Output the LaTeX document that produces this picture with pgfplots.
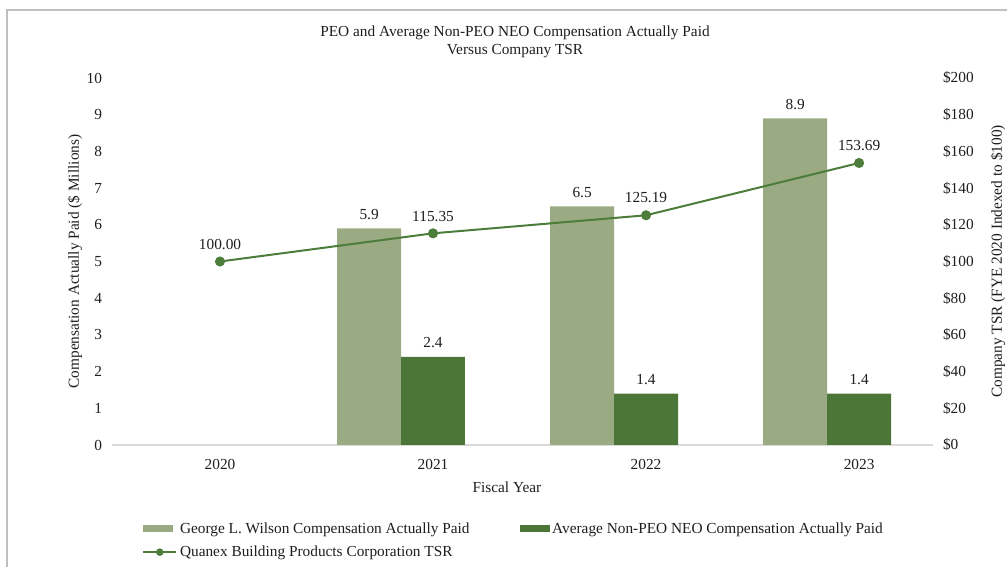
\documentclass[border=0pt]{standalone}
\usepackage{pgfplots}
\pgfplotsset{compat=1.18}
\usepackage{fontspec}
\setmainfont{Liberation Serif}
\definecolor{lightg}{HTML}{9AAA83}
\definecolor{darkg}{HTML}{4B7638}
\definecolor{lineg}{HTML}{4D7D3A}
\definecolor{axisg}{HTML}{D9D9D9}
\definecolor{borderg}{HTML}{C0C0C0}
\definecolor{txt}{HTML}{1E1E1E}
\newcommand\cf{\fontsize{11.5}{13.5}\selectfont}
\pgfplotsset{
  lightleg/.style={legend image code/.code={\fill[lightg] (0pt,-2.6pt) rectangle (22pt,2.6pt);}},
  darkleg/.style={legend image code/.code={\fill[darkg] (0pt,-2.6pt) rectangle (22pt,2.6pt);}},
  lineleg/.style={legend image code/.code={\draw[lineg, line width=1.5pt] (0pt,0pt) -- (24.8pt,0pt); \fill[lineg] (12.4pt,0pt) circle (2.6pt);}},
}
\begin{document}
\begin{tikzpicture}
\path[use as bounding box] (0pt,0pt) rectangle (755.25pt,425.25pt);
\draw[borderg, line width=0.8pt] (5.25pt,-5pt) -- (5.25pt,417.75pt) -- (760pt,417.75pt);
\node[txt, align=center, font=\fontsize{11.5}{13.5}\selectfont] at (386.25pt,393.75pt) {PEO and Average Non-PEO NEO Compensation Actually Paid\\Versus Company TSR};
\begin{axis}[
  at={(84pt,91.5pt)}, anchor=south west,
  width=615.75pt, height=275.25pt, scale only axis,
  xmin=-0.507, xmax=3.347, ymin=0, ymax=10,
  ytick={0,1,...,10},
  xtick={0,1,2,3}, xticklabels={2020,2021,2022,2023},
  axis y line*=left, axis x line*=bottom,
  y axis line style={draw=none},
  x axis line style={axisg, line width=0.8pt},
  major tick length=0pt,
  tick label style={txt, font=\cf},
  /pgf/number format/assume math mode=true,
  yticklabel style={xshift=-4pt},
  xticklabel style={yshift=-7.5pt},
  xlabel={Fiscal Year},
  ylabel={Compensation Actually Paid (\$ Millions)},
  label style={txt, font=\cf},
  xlabel style={at={(axis description cs:0.481,-0.114)}, anchor=center},
  ylabel style={at={(axis description cs:-0.045,0.5)}, anchor=center},
  ybar, bar width=0.30,
  nodes near coords,
  every node near coord/.append style={txt, font=\cf, yshift=3pt},
  legend columns=2,
  legend cell align=left,
  legend style={at={(axis description cs:0.0317,-0.196)}, anchor=north west,
    draw=none, fill=none, font=\cf, text=txt,
    /tikz/every even column/.append style={column sep=36pt},
    /tikz/row sep=4pt},
]
\addplot[fill=lightg, draw=none, bar shift=-0.30, lightleg]
  coordinates {(1,5.9) (2,6.5) (3,8.9)};
\addlegendentry{George L. Wilson Compensation Actually Paid}
\addplot[fill=darkg, draw=none, bar shift=0, darkleg]
  coordinates {(1,2.4) (2,1.4) (3,1.4)};
\addlegendentry{Average Non-PEO NEO Compensation Actually Paid}
\addlegendimage{lineleg}
\addlegendentry{Quanex Building Products Corporation TSR}
\end{axis}
\begin{axis}[
  at={(84pt,91.5pt)}, anchor=south west,
  width=615.75pt, height=275.25pt, scale only axis,
  xmin=-0.507, xmax=3.347, ymin=0, ymax=200,
  ytick={0,20,...,200},
  axis y line*=right, axis x line=none,
  y axis line style={draw=none},
  major tick length=0pt,
  tick label style={txt, font=\cf},
  /pgf/number format/assume math mode=true,
  yticklabel={\$\pgfmathprintnumber{\tick}},
  yticklabel style={xshift=4pt},
  ylabel={Company TSR (FYE 2020 Indexed to \$100)},
  ylabel style={txt, font=\cf, at={(axis description cs:1.079,0.5)}, anchor=center},
]
\addplot[lineg, line width=1.5pt, mark=*, mark size=3pt, mark options={fill=lineg},
  point meta=y,
  nodes near coords={\pgfmathprintnumber[fixed,fixed zerofill,precision=2]{\pgfplotspointmeta}},
  every node near coord/.append style={txt, font=\cf, yshift=5pt}]
  coordinates {(0,100.00) (1,115.35) (2,125.19) (3,153.69)};
\end{axis}
\end{tikzpicture}
\end{document}
